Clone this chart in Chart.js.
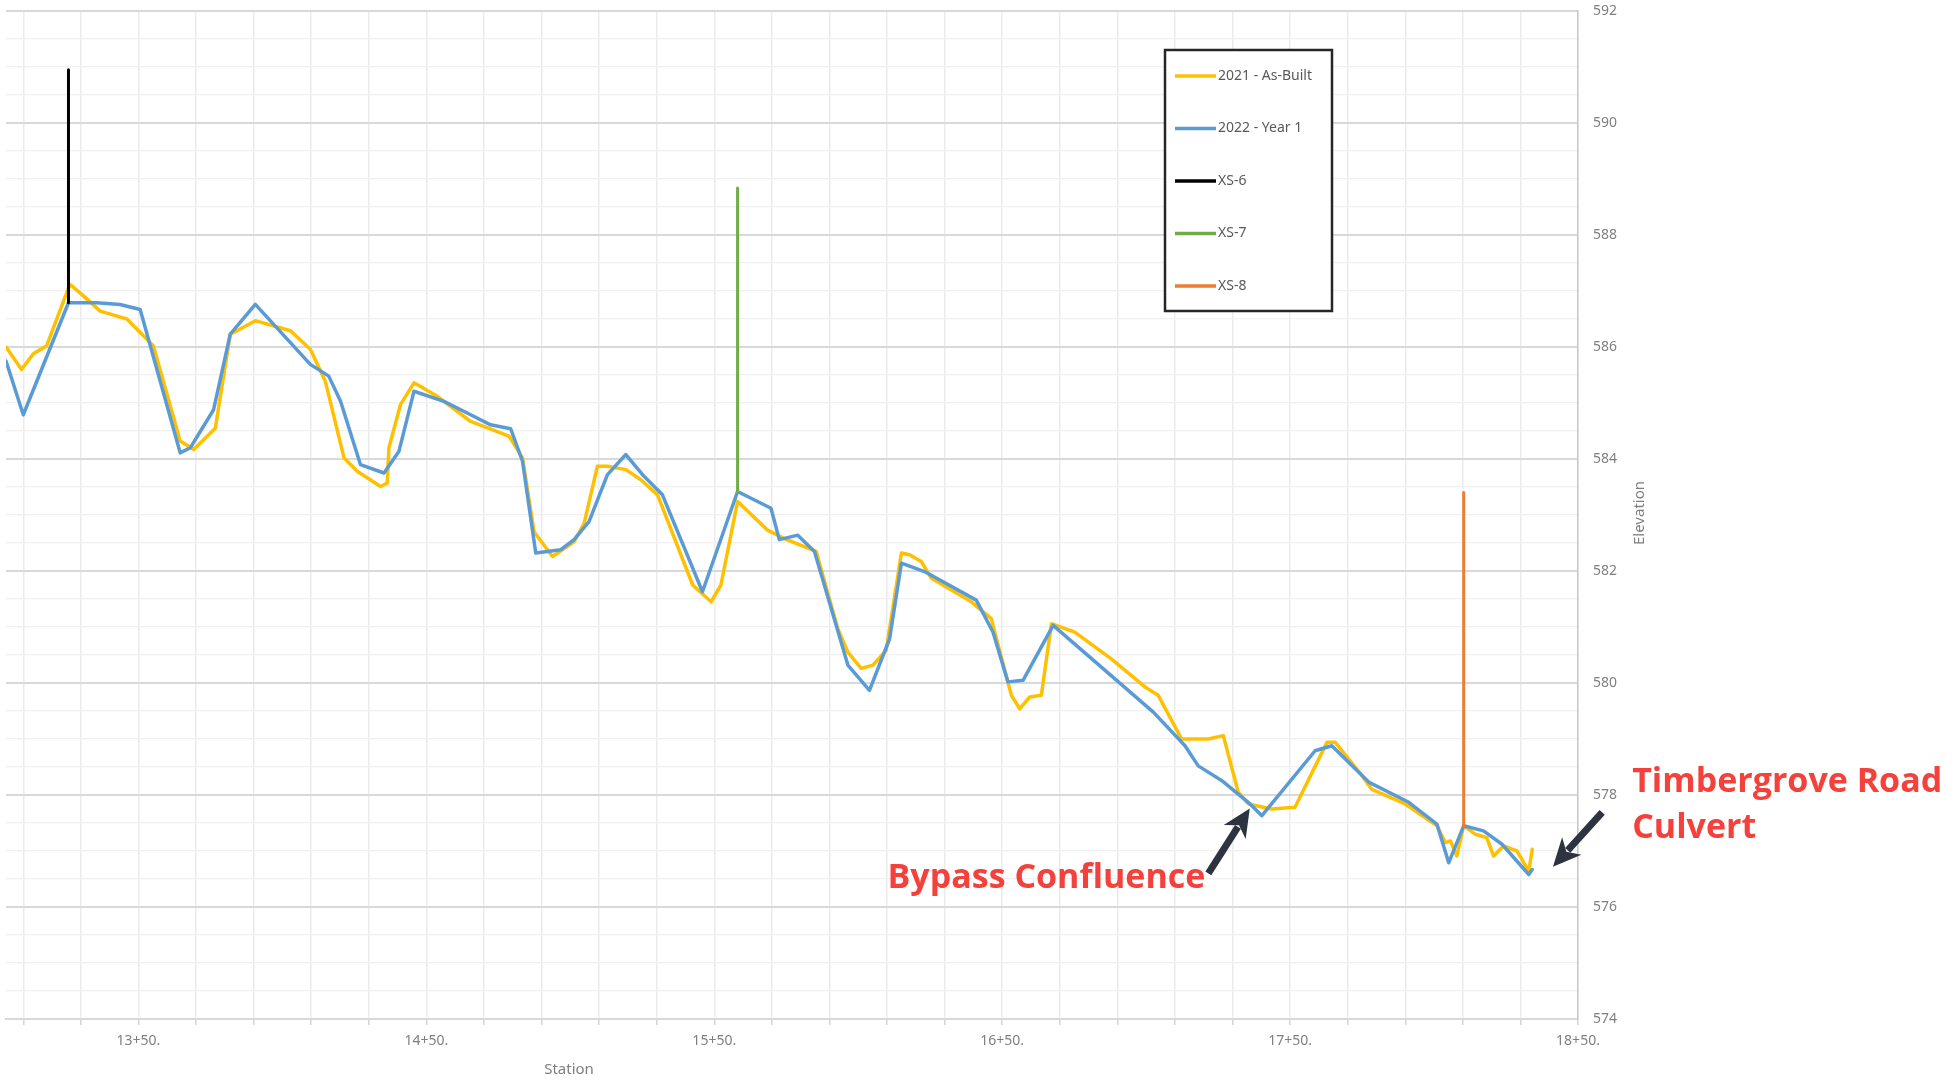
<!DOCTYPE html>
<html>
<head>
<meta charset="utf-8">
<script src="https://cdn.jsdelivr.net/npm/chart.js@4.4.1/dist/chart.umd.min.js"></script>
<style>
    html, body { margin: 0; padding: 0; background: #ffffff; }
    #wrap { width: 1960px; height: 1081px; }
</style>
</head>
<body>
<div id="wrap"><canvas id="profile" width="1960" height="1081"></canvas></div>
<script>
// longitudinal profile, stations in feet, elevations in feet
const asBuiltStation = [1304, 1309.4, 1313.5, 1318.1, 1326.2, 1330.3, 1336.7, 1346, 1350.6, 1355.2,
    1364.5, 1369.2, 1376.7, 1381.9, 1384.2, 1390.6, 1402.8, 1409.7, 1414.9, 1421.4,
    1426, 1434.1, 1436.4, 1437, 1441, 1445.7, 1453.8, 1465.4, 1478.7, 1483.4,
    1487.4, 1493.8, 1501.3, 1504.8, 1509.4, 1512.9, 1519.3, 1524.5, 1530.3, 1542.5,
    1548.9, 1552.3, 1558.1, 1568.5, 1574.3, 1585.4, 1592.9, 1596.4, 1601, 1605.1,
    1609.7, 1615, 1617.8, 1621.9, 1625.4, 1639.3, 1646.2, 1647.4, 1653.2, 1656.1,
    1659.6, 1663.6, 1667.1, 1675.2, 1687.9, 1699.6, 1704.2, 1712.3, 1721.6, 1726.8,
    1732, 1735.5, 1743.6, 1751.7, 1762.8, 1765.7, 1774.9, 1778.4, 1790, 1801,
    1803.9, 1805.7, 1807.9, 1810.3, 1814.3, 1818.3, 1820.7, 1824.1, 1828.8, 1832.9, 1834.1];
const asBuiltElev = [586.0, 585.6, 585.88, 586.02, 587.12, 586.94, 586.64, 586.5, 586.26, 586.02,
    584.32, 584.17, 584.55, 586.23, 586.29, 586.47, 586.29, 585.96, 585.39, 584.02,
    583.78, 583.51, 583.57, 584.2, 584.97, 585.36, 585.12, 584.67, 584.41, 584.02,
    582.7, 582.26, 582.52, 582.85, 583.87, 583.87, 583.81, 583.63, 583.36, 581.75,
    581.45, 581.75, 583.24, 582.73, 582.58, 582.35, 580.97, 580.55, 580.26, 580.32,
    580.58, 582.32, 582.29, 582.17, 581.87, 581.45, 581.15, 580.91, 579.78, 579.54,
    579.75, 579.78, 581.06, 580.91, 580.43, 579.93, 579.78, 579.0, 579.0, 579.06,
    578.05, 577.84, 577.75, 577.78, 578.94, 578.94, 578.35, 578.1, 577.84, 577.45,
    577.15, 577.18, 576.91, 577.45, 577.3, 577.24, 576.91, 577.09, 577.0, 576.64, 577.03];

const year1Station = [1304, 1310, 1325.7, 1335.5, 1343.6, 1350.6, 1364.5, 1368, 1376.1, 1381.9,
    1390.6, 1409.7, 1416.1, 1420.2, 1427.1, 1435.3, 1440.5, 1445.7, 1456.1, 1465.4,
    1472.3, 1479.3, 1483.4, 1488, 1496.7, 1501.3, 1506.5, 1512.9, 1519.3, 1525.6,
    1532, 1545.9, 1558.1, 1569.7, 1572.6, 1579, 1584.8, 1596.4, 1603.9, 1610.9,
    1615, 1623, 1641, 1646.8, 1652, 1657.3, 1667.7, 1702.5, 1713.5, 1718.1,
    1726.2, 1736.1, 1740.2, 1758.7, 1764.5, 1777.3, 1791.2, 1801, 1805.1, 1810.3,
    1817.2, 1823.6, 1832.9, 1834.1];
const year1Elev = [585.75, 584.79, 586.79, 586.79, 586.76, 586.67, 584.11, 584.2, 584.88, 586.23,
    586.76, 585.69, 585.48, 585.03, 583.9, 583.75, 584.14, 585.21, 585.03, 584.79,
    584.61, 584.54, 583.96, 582.32, 582.38, 582.56, 582.88, 583.72, 584.08, 583.69,
    583.36, 581.63, 583.42, 583.12, 582.56, 582.64, 582.35, 580.32, 579.87, 580.79,
    582.14, 581.99, 581.48, 580.91, 580.02, 580.05, 581.03, 579.48, 578.88, 578.52,
    578.26, 577.84, 577.63, 578.79, 578.88, 578.23, 577.87, 577.48, 576.79, 577.45,
    577.36, 577.12, 576.58, 576.67];

// cross section markers
const xs6Station = [1325.7, 1325.7];
const xs6Elev = [586.79, 590.95];
const xs7Station = [1558.1, 1558.1];
const xs7Elev = [583.42, 588.84];
const xs8Station = [1810.3, 1810.3];
const xs8Elev = [577.45, 583.4];

const stationLabels = [1350, 1450, 1550, 1650, 1750, 1850];
const elevationLabels = [574, 576, 578, 580, 582, 584, 586, 588, 590, 592];

function toPoints(xs, ys) {
    return xs.map((x, i) => ({x: x, y: ys[i]}));
}

function fmtStation(v) {
    return Math.floor(v / 100) + '+' + String(Math.round(v % 100)).padStart(2, '0') + '.';
}

function drawArrow(ctx, x0, y0, x1, y1) {
    const ang = Math.atan2(y1 - y0, x1 - x0);
    const head = 28, half = 13;
    const bx = x1 - head * Math.cos(ang), by = y1 - head * Math.sin(ang);
    ctx.strokeStyle = '#2d3440';
    ctx.fillStyle = '#2d3440';
    ctx.lineWidth = 7;
    ctx.beginPath();
    ctx.moveTo(x0, y0);
    ctx.lineTo(bx + 6 * Math.cos(ang), by + 6 * Math.sin(ang));
    ctx.stroke();
    ctx.beginPath();
    ctx.moveTo(x1, y1);
    ctx.lineTo(bx - half * Math.sin(ang), by + half * Math.cos(ang));
    ctx.lineTo(bx + 8 * Math.cos(ang), by + 8 * Math.sin(ang));
    ctx.lineTo(bx + half * Math.sin(ang), by - half * Math.cos(ang));
    ctx.closePath();
    ctx.fill();
}

const overlay = {
    id: 'overlay',
    afterDraw(chart) {
        const ctx = chart.ctx;
        const xs = chart.scales.x, ys = chart.scales.y;
        ctx.save();

        // axis titles
        ctx.fillStyle = '#7f7f7f';
        ctx.font = '15px "Noto Sans"';
        ctx.textAlign = 'center';
        ctx.textBaseline = 'middle';
        ctx.fillText('Station', 569, 1070);
        ctx.save();
        ctx.translate(1640, 513);
        ctx.rotate(-Math.PI / 2);
        ctx.fillText('Elevation', 0, 0);
        ctx.restore();

        // legend box
        ctx.fillStyle = '#ffffff';
        ctx.fillRect(1165, 50, 167, 261);
        ctx.strokeStyle = '#262626';
        ctx.lineWidth = 2.5;
        ctx.strokeRect(1165, 50, 167, 261);
        ctx.font = '14px "Noto Sans"';
        ctx.textAlign = 'left';
        chart.data.datasets.forEach((ds, i) => {
            const y = 76 + i * 52.5;
            ctx.strokeStyle = ds.borderColor;
            ctx.lineWidth = 3.5;
            ctx.beginPath();
            ctx.moveTo(1175, y);
            ctx.lineTo(1216, y);
            ctx.stroke();
            ctx.fillStyle = '#595959';
            ctx.fillText(ds.label, 1218, y);
        });

        // callouts
        const bTip = [xs.getPixelForValue(1736), ys.getPixelForValue(577.76)];
        const bTail = [xs.getPixelForValue(1721.6), ys.getPixelForValue(576.6)];
        drawArrow(ctx, bTail[0], bTail[1], bTip[0], bTip[1]);
        const tTip = [xs.getPixelForValue(1841.3), ys.getPixelForValue(576.72)];
        const tTail = [xs.getPixelForValue(1858.4), ys.getPixelForValue(577.69)];
        drawArrow(ctx, tTail[0], tTail[1], tTip[0], tTip[1]);

        ctx.fillStyle = '#f4413b';
        ctx.font = 'bold 34px "Open Sans"';
        ctx.textAlign = 'right';
        ctx.fillText('Bypass Confluence', bTail[0] - 3, bTail[1] + 5);
        ctx.textAlign = 'left';
        ctx.fillText('Timbergrove Road', tTail[0] + 30, tTail[1] - 30);
        ctx.fillText('Culvert', tTail[0] + 30, tTail[1] + 16);
        ctx.restore();
    }
};

const lineStyle = {
    showLine: true,
    pointRadius: 0,
    borderWidth: 3.5,
    borderJoinStyle: 'round',
    borderCapStyle: 'round',
    tension: 0
};

const ctx = document.getElementById('profile').getContext('2d');
const chart = new Chart(ctx, {
    type: 'scatter',
    data: {
        datasets: [
            Object.assign({label: '2021 - As-Built', data: toPoints(asBuiltStation, asBuiltElev),
                borderColor: '#FFC000', order: 4}, lineStyle),
            Object.assign({label: '2022 - Year 1', data: toPoints(year1Station, year1Elev),
                borderColor: '#5B9BD5', order: 3}, lineStyle),
            Object.assign({label: 'XS-6', data: toPoints(xs6Station, xs6Elev),
                borderColor: '#000000', order: 2}, lineStyle, {borderWidth: 3}),
            Object.assign({label: 'XS-7', data: toPoints(xs7Station, xs7Elev),
                borderColor: '#70AD47', order: 1}, lineStyle, {borderWidth: 3}),
            Object.assign({label: 'XS-8', data: toPoints(xs8Station, xs8Elev),
                borderColor: '#ED7D31', order: 0}, lineStyle, {borderWidth: 3})
        ]
    },
    options: {
        responsive: false,
        animation: false,
        devicePixelRatio: 1,
        layout: {
            padding: {left: 6, top: 11, right: 312, bottom: 0}
        },
        plugins: {
            legend: {display: false},
            tooltip: {enabled: false}
        },
        scales: {
            x: {
                type: 'linear',
                min: 1304,
                max: 1850,
                afterBuildTicks: function(scale) {
                    let t = [];
                    for (let v = 1310; v <= 1850; v += 20) {
                        t.push({value: v});
                    }
                    scale.ticks = t;
                },
                afterFit: function(scale) {
                    scale.height = 62;
                },
                ticks: {
                    autoSkip: false,
                    maxRotation: 0,
                    minRotation: 0,
                    padding: 8,
                    color: '#7f7f7f',
                    font: {family: 'Noto Sans', size: 14},
                    callback: function(value) {
                        return stationLabels.includes(value) ? fmtStation(value) : '';
                    }
                },
                grid: {
                    color: '#ececec',
                    lineWidth: 1.5,
                    tickLength: 6,
                    tickColor: '#d4d4d4'
                },
                border: {color: '#d9d9d9', width: 2}
            },
            y: {
                position: 'right',
                min: 574,
                max: 592,
                afterFit: function(scale) {
                    scale.width = 70;
                    scale.paddingTop = 0;
                    scale.paddingBottom = 0;
                },
                ticks: {
                    stepSize: 0.5,
                    padding: 15,
                    color: '#7f7f7f',
                    font: {family: 'Noto Sans', size: 14},
                    callback: function(value) {
                        return elevationLabels.includes(value) ? String(value) : '';
                    }
                },
                grid: {
                    drawTicks: false,
                    color: function(c) {
                        return elevationLabels.includes(c.tick.value) ? '#d9d9d9' : '#f0f0f0';
                    },
                    lineWidth: function(c) {
                        return elevationLabels.includes(c.tick.value) ? 2 : 1.2;
                    }
                },
                border: {color: '#c8c8c8', width: 1.5}
            }
        }
    },
    plugins: [overlay]
});
</script>
</body>
</html>
